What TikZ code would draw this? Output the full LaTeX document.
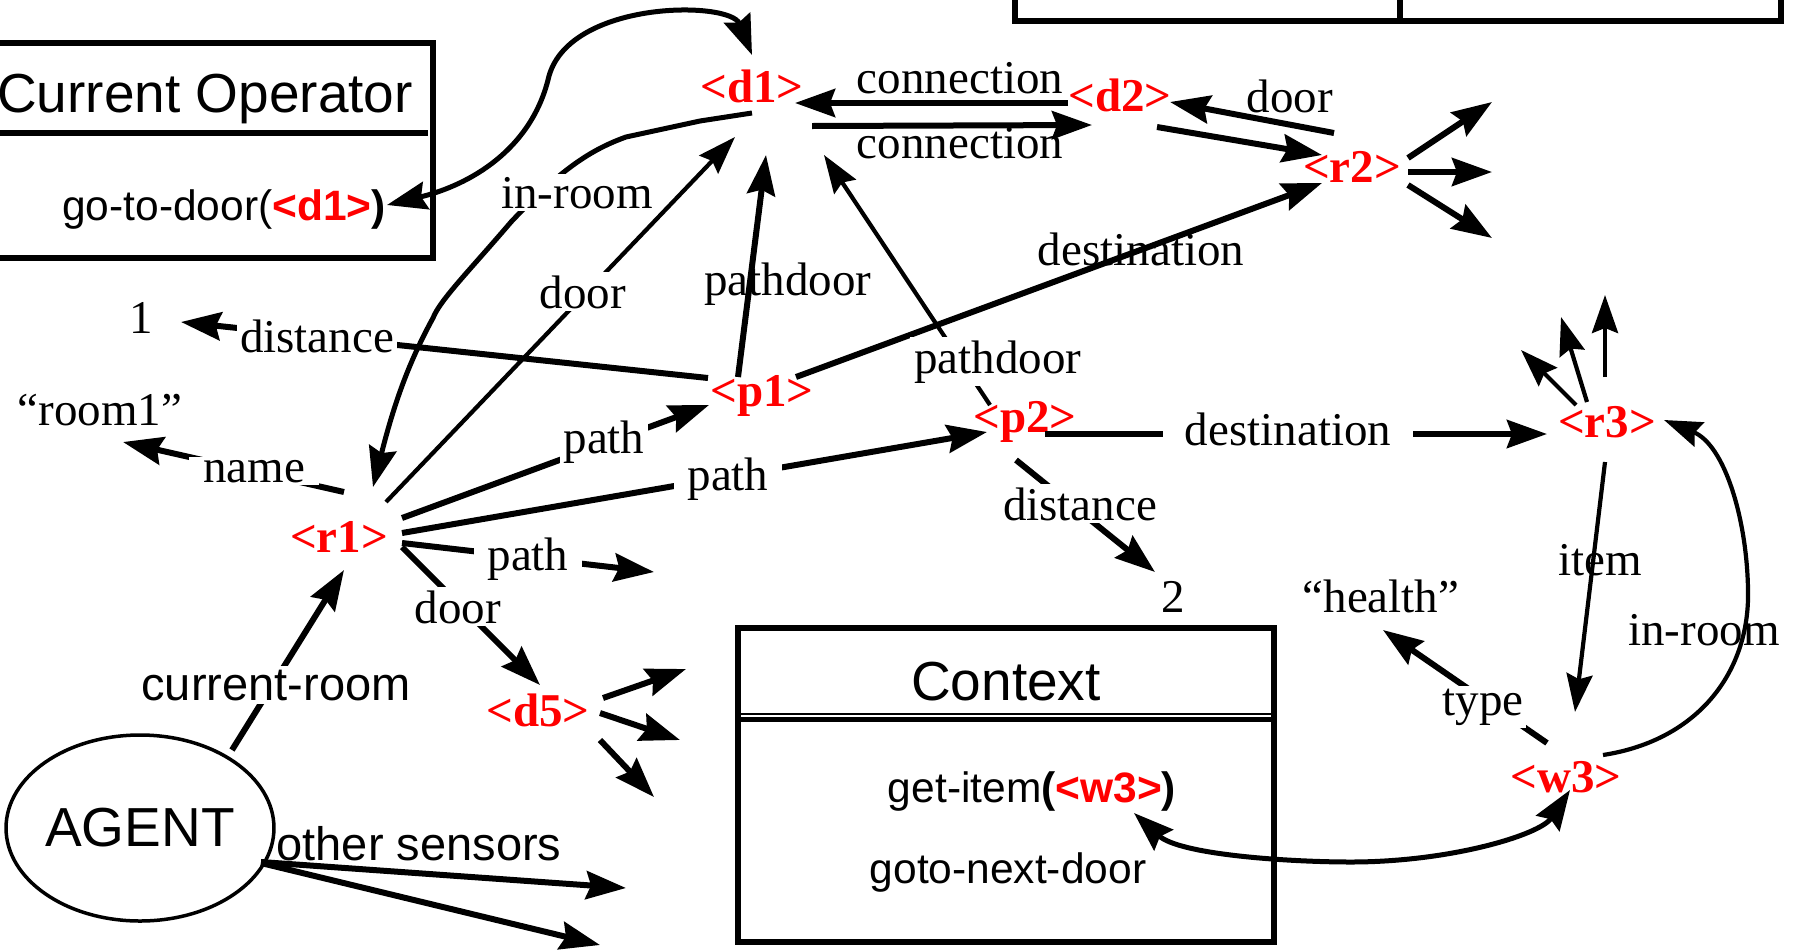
\documentclass[tikz,border=0pt]{standalone}
\usepackage{fontspec}
\setmainfont{Liberation Serif}
\newfontfamily\sansf{Liberation Sans}
\usetikzlibrary{arrows.meta,shapes.geometric}
\definecolor{nodered}{RGB}{255,0,0}
\begin{document}
\begin{tikzpicture}[x=1pt,y=-1pt,
  lab/.style={font=\fontsize{47}{50}\selectfont, anchor=base, inner sep=0pt},
  labw/.style={lab, fill=white, inner xsep=10pt, inner ysep=3pt},
  rn/.style={font=\fontsize{47}{50}\selectfont\bfseries, text=nodered, anchor=base, inner sep=0pt},
  sbig/.style={font=\sansf\fontsize{55}{60}\selectfont, anchor=base, inner sep=0pt},
  smid/.style={font=\sansf\fontsize{47}{50}\selectfont, anchor=base, inner sep=0pt},
  ssm/.style={font=\sansf\fontsize{42.5}{46}\selectfont, anchor=base, inner sep=0pt},
  ar/.style={line width=6pt, -{Stealth[length=40pt,width=28pt,inset=5pt]}},
  art/.style={line width=4.2pt, -{Stealth[length=38pt,width=26pt,inset=5pt]}},
  dbl/.style={line width=5pt, {Stealth[length=40pt,width=28pt,inset=5pt]}-{Stealth[length=40pt,width=28pt,inset=5pt]}},
  boxline/.style={line width=5.5pt}
]
\useasboundingbox (0,0) rectangle (1798,951);
\clip (0,0) rectangle (1798,951);

% boxes
\draw[boxline] (-10,43) rectangle (433,258);
\draw[boxline] (-10,133) -- (428,133);
\node[sbig] (curop) at (205,112) {Current Operator};
\node[ssm] (gotodoor) at (224,220) {go-to-door(\textbf{\textcolor{nodered}{<d1>})}};

\draw[boxline] (738,628) rectangle (1274,942);
\draw[line width=2pt] (738,714) -- (1274,714);
\draw[boxline] (738,719.5) -- (1274,719.5);
\node[sbig] (ctx) at (1006,700) {Context};
\node[ssm] (getitem) at (1032,802) {get-item\textbf{(\textcolor{nodered}{<w3>})}};
\node[ssm] (gotonext) at (1008,883) {goto-next-door};

\draw[line width=6pt] (1015,-60) rectangle (1781,21);
\draw[boxline] (1400,-60) -- (1400,21);

% main nodes
\node[rn] (d1) at (752,102) {<d1>};
\node[rn] (d2) at (1120,111) {<d2>};
\node[rn] (r2) at (1352,182) {<r2>};
\node[rn] (p1) at (762,406) {<p1>};
\node[rn] (p2) at (1025,432) {<p2>};
\node[rn] (r3) at (1607,437) {<r3>};
\node[rn] (r1) at (339,552) {<r1>};
\node[rn] (d5) at (538,726) {<d5>};
\node[rn] (w3) at (1566,792) {<w3>};
\node[lab] (one) at (141,333) {1};
\node[lab] (room1) at (100,425) {“room1”};
\node[lab] (two) at (1173,612) {2};
\node[lab] (health) at (1381,612) {“health”};
\node[ellipse, draw, line width=3.5pt, minimum width=250pt, minimum height=186pt, inner sep=0pt,
      font=\sansf\fontsize{55}{60}\selectfont] (agent) at (140,828) {AGENT};

% free ends
\coordinate (r2a) at (1492,102);
\coordinate (r2b) at (1492,172);
\coordinate (r2c) at (1492,238);
\coordinate (r1s) at (654,572);
\coordinate (d5a) at (686,669);
\coordinate (d5b) at (680,740);
\coordinate (d5c) at (654,797);
\coordinate (os1) at (626,888);
\coordinate (os2) at (600,945);
\coordinate (r3a) at (1521,350);
\coordinate (r3b) at (1561,317);
\coordinate (r3c) at (1605,295);

% edges
\draw[dbl] ([shift={(163,-15)}]gotodoor.base) .. controls (470,185) and (530,150) .. (548,80)
   .. controls (565,0) and (730,0) .. ([shift={(0,-47)}]d1.base);
\draw[ar] ([shift={(-52,-8)}]d2.base) -- ([shift={(43,1)}]d1.base);
\draw[ar] ([shift={(60,24)}]d1.base) -- ([shift={(-28,14)}]d2.base);
\draw[ar] ([shift={(-18,-49)}]r2.base) -- ([shift={(50,-9)}]d2.base);
\draw[ar] ([shift={(37,16)}]d2.base) -- ([shift={(-30,-27)}]r2.base);
\draw[ar] ([shift={(56,-24)}]r2.base) -- (r2a);
\draw[ar] ([shift={(56,-10)}]r2.base) -- (r2b);
\draw[ar] ([shift={(56,3)}]r2.base) -- (r2c);

\draw[ar] ([shift={(34,-29)}]p1.base) -- ([shift={(-30,1)}]r2.base);
\draw[ar] ([shift={(-24,-29)}]p1.base) -- ([shift={(14,53)}]d1.base);
\draw[art] ([shift={(-35,-27)}]p2.base) -- ([shift={(72,53)}]d1.base);
\draw[ar] ([shift={(-54,-28)}]p1.base) -- ([shift={(40,-11)}]one.base);

\draw[line width=5pt, -{Stealth[length=40pt,width=28pt,inset=5pt]}] ([shift={(0,11)}]d1.base)
   -- (700,121) -- (626,137) .. controls (590,150) and (560,170) .. (511,222)
   .. controls (470,270) and (440,300) .. (433,318)
   .. controls (410,360) and (395,400) .. ([shift={(34,-65)}]r1.base);
\draw[art] ([shift={(47,-50)}]r1.base) -- ([shift={(-17,35)}]d1.base);
\draw[ar] ([shift={(63,-34)}]r1.base) -- ([shift={(-53,-1)}]p1.base);
\draw[ar] ([shift={(63,-19)}]r1.base) -- ([shift={(-38,0)}]p2.base);
\draw[ar] ([shift={(63,-9)}]r1.base) -- (r1s);
\draw[ar] ([shift={(63,-5)}]r1.base) -- ([shift={(2,-41)}]d5.base);
\draw[ar] ([shift={(65,-28)}]d5.base) -- (d5a);
\draw[ar] ([shift={(62,-13)}]d5.base) -- (d5b);
\draw[ar] ([shift={(62,14)}]d5.base) -- (d5c);

\draw[ar] ([shift={(92,-78)}]agent.center) -- ([shift={(5,18)}]r1.base);
\draw[ar] ([shift={(121,34)}]agent.center) -- (os1);
\draw[ar] ([shift={(121,35)}]agent.center) -- (os2);
\draw[ar] ([shift={(5,-60)}]r1.base) -- ([shift={(23,17)}]room1.base);

\draw[ar] ([shift={(20,2)}]p2.base) -- ([shift={(-60,-3)}]r3.base);
\draw[ar] ([shift={(-9,28)}]p2.base) -- ([shift={(-18,-40)}]two.base);
\draw[art] ([shift={(-31,-32)}]r3.base) -- (r3a);
\draw[art] ([shift={(-20,-35)}]r3.base) -- (r3b);
\draw[art] ([shift={(-2,-60)}]r3.base) -- (r3c);
\draw[art] ([shift={(-2,25)}]r3.base) -- ([shift={(9,-80)}]w3.base);
\draw[art] ([shift={(37,-37)}]w3.base) .. controls (1700,740) and (1750,670) .. (1748,590)
   .. controls (1747,520) and (1725,445) .. ([shift={(57,-17)}]r3.base);
\draw[ar] ([shift={(-19,-49)}]w3.base) -- ([shift={(2,18)}]health.base);
\draw[dbl] ([shift={(102,11)}]getitem.base) .. controls (1180,855) and (1290,862) .. (1351,862)
   .. controls (1450,862) and (1540,835) .. ([shift={(4,-2)}]w3.base);

% edge labels
\node[lab] (lconn1) at (960,93) {connection};
\node[lab] (lconn2) at (960,158) {connection};
\node[lab] (ldoor1) at (1290,112) {door};
\node[labw, inner xsep=4pt] (linroom1) at (577,208) {in-room};
\node[labw] (ldoor2) at (583,308) {door};
\node[lab] (lpd1) at (788,295) {pathdoor};
\node[lab] (ldest1) at (1141,265) {destination};
\node[labw, inner xsep=3pt] (ldist1) at (317,352) {distance};
\node[labw, inner xsep=4pt] (lpd2) at (998,373) {pathdoor};
\node[labw, inner xsep=14pt] (lname) at (254,482) {name};
\node[labw, inner xsep=4pt] (lpath1) at (604,453) {path};
\node[labw, inner xsep=14pt] (lpath2) at (728,490) {path};
\node[labw, inner xsep=14pt] (lpath3) at (528,570) {path};
\node[labw] (ldoor3) at (458,623) {door};
\node[labw, inner xsep=22pt] (ldest2) at (1288,445) {destination};
\node[labw] (ldist2) at (1080,520) {distance};
\node[lab] (litem) at (1600,575) {item};
\node[lab] (linroom2) at (1704,645) {in-room};
\node[labw, inner xsep=3pt] (ltype) at (1483,715) {type};
\node[smid, fill=white, inner xsep=3pt, inner ysep=4pt] (lcur) at (276,700) {current-room};
\node[smid] (lother) at (419,860) {other sensors};
\end{tikzpicture}
\end{document}
